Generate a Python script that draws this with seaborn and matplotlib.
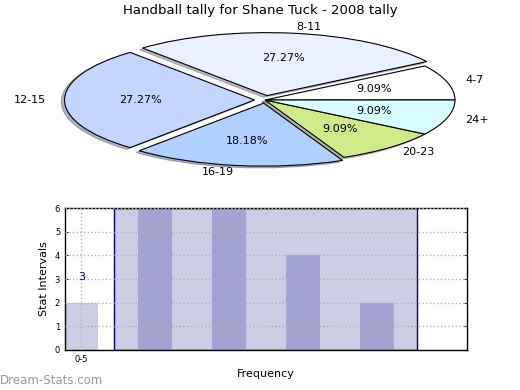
import numpy as np
import seaborn as sns
import matplotlib.pyplot as plt

# pie data
pie_labels = ["4-7", "8-11", "12-15", "16-19", "20-23", "24+"]
pie_counts = [1, 3, 3, 2, 1, 1]
pie_colors = ["#FFFFFF", "#EAF0FF", "#C4D6FF", "#B0D0FF", "#D0EA8A", "#D8FFFF"]
pie_explode = [0.0, 0.07, 0.055, 0.05, 0.0, 0.0]

# bar data
bar_pos = [0, 1, 2, 3, 4]
bar_vals = [2, 6, 6, 4, 2]
bar_colors = ["#CCCCE4", "#A3A3D1", "#A3A3D1", "#A3A3D1", "#A3A3D1"]
span_start, span_end, span_height = 0.44, 4.53, 6
tick_labels = ["0-5"]
note_value = 3

sns.set_style("white")
plt.rcParams["font.family"] = ["DejaVu Sans"]

fig = plt.figure(figsize=(5.2, 3.9), dpi=100)

# ---- pie ----
# center ~ (265, 100) px, radius ~190 x 63 px
ax1 = fig.add_axes([(265 - 237.5) / 520, (390 - 100 - 78.75) / 390, 475 / 520, 157.5 / 390])
wedges, texts, autotexts = ax1.pie(
    pie_counts, labels=pie_labels, colors=pie_colors, explode=pie_explode,
    autopct="%.2f%%", pctdistance=0.6, labeldistance=1.1, startangle=0,
    shadow={"ox": -0.012, "oy": -0.02, "shade": 0.5},
    wedgeprops=dict(edgecolor="black", linewidth=0.8),
    textprops=dict(fontsize=8, color="black"),
)
ax1.set_aspect("auto")
ax1.set_xlim(-1.25, 1.25)
ax1.set_ylim(-1.25, 1.25)
ax1.axis("off")
fig.text(0.5, 0.974, "Handball tally for Shane Tuck - 2008 tally",
         ha="center", va="center", fontsize=9.5, color="black")

# ---- bars ----
ax2 = fig.add_axes([0.125, 0.1026, 0.773, 0.364])
ax2.bar((span_start + span_end) / 2, span_height, width=span_end - span_start,
        color="#CCCCE4", edgecolor="#000080", linewidth=1, zorder=1)
sns.barplot(x=bar_pos, y=bar_vals, hue=bar_pos, palette=bar_colors,
            native_scale=True, width=0.46, legend=False, saturation=1,
            linewidth=0, ax=ax2, zorder=2)
ax2.set_xlim(-0.22, 5.21)
ax2.set_ylim(0, 6)
ax2.set_yticks(range(7))
ax2.set_xticks([0])
ax2.set_xticklabels(tick_labels)
ax2.tick_params(labelsize=6, direction="in", length=2, right=True, left=True,
                bottom=True, labelcolor="black")
for y in range(1, 7):
    ax2.axhline(y, color="#B0B0B0", linestyle=":", linewidth=1, zorder=3)
ax2.axvline(0, color="#B0B0B0", linestyle=":", linewidth=1, zorder=3)
ax2.text(0, note_value + 0.1, str(note_value), color="#000080", fontsize=8,
         ha="center", va="center", zorder=4)
ax2.set_ylabel("Stat Intervals", fontsize=8, color="black")
ax2.set_xlabel("Frequency", fontsize=8, color="black")
for s in ax2.spines.values():
    s.set_color("black")
    s.set_linewidth(1)

fig.text(0.0, 0.025, "Dream-Stats.com", color="#999999", fontsize=8.5,
         ha="left", va="center")

fig.savefig("out.png", dpi=100)
